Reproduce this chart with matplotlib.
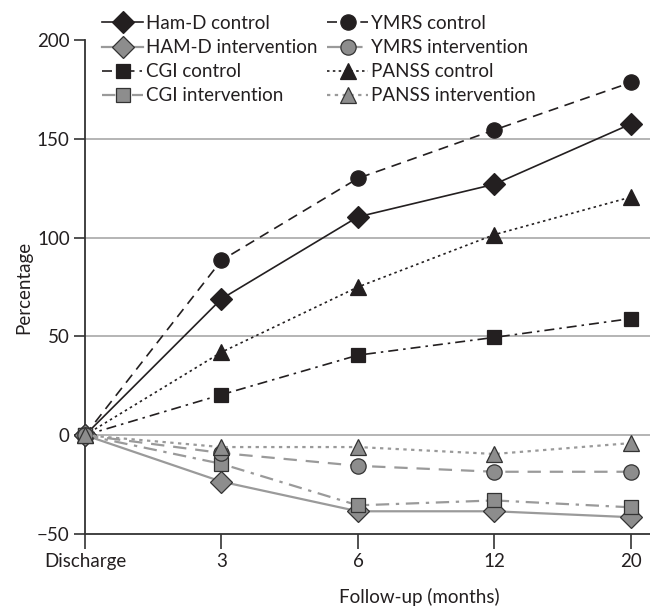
import matplotlib
matplotlib.use("Agg")
import matplotlib.pyplot as plt

categories = ["Discharge", "3", "6", "12", "20"]
hamd_control = [0, 69, 110.5, 127, 157.5]
ymrs_control = [0, 88.5, 130, 154.5, 178.5]
cgi_control = [0, 20.5, 40.5, 49.5, 59]
panss_control = [0, 42, 75, 101.5, 120.5]
hamd_interv = [0, -23.5, -38.5, -38.5, -41.5]
ymrs_interv = [0, -9, -15.5, -18.5, -18.5]
cgi_interv = [0, -14.5, -35.5, -33, -36.5]
panss_interv = [0, -6, -6, -9.5, -4]

plt.rcParams['font.family'] = ['Lato', 'DejaVu Sans']
BLACK = "#231f20"
GREY = "#8d8d8d"
GREYLINE = "#9a9a9a"
TXT = "#231f20"

fig = plt.figure(figsize=(6.5, 6.09), dpi=100)
ax = fig.add_axes([85/650, 1-534/609, 1-85/650, (534-40)/609])

x = list(range(len(categories)))

series = [
    ("Ham-D control", hamd_control, "-", "D", BLACK, BLACK, 11),
    ("HAM-D intervention", hamd_interv, "-", "D", GREYLINE, GREY, 11),
    ("CGI control", cgi_control, (0, (6, 3, 1.5, 3)), "s", BLACK, BLACK, 10),
    ("CGI intervention", cgi_interv, (0, (6, 3, 1.5, 3)), "s", GREYLINE, GREY, 10),
    ("YMRS control", ymrs_control, (0, (6, 4)), "o", BLACK, BLACK, 11),
    ("YMRS intervention", ymrs_interv, (0, (6, 4)), "o", GREYLINE, GREY, 11),
    ("PANSS control", panss_control, (0, (1.5, 2)), "^", BLACK, BLACK, 11),
    ("PANSS intervention", panss_interv, (0, (1.5, 2)), "^", GREYLINE, GREY, 11),
]

for yv in [0, 50, 100, 150]:
    ax.axhline(yv, color="#a8a8a8", lw=1.2, zorder=1)

handles = {}
order_plot = [0, 2, 4, 6, 1, 3, 5, 7]
for i in order_plot:
    name, vals, ls, mk, lc, fc, ms = series[i]
    lw = 1.2 if lc == BLACK else 1.6
    h, = ax.plot(x, vals, linestyle=ls, color=lc, lw=lw, marker=mk,
                 markersize=ms, markerfacecolor=fc,
                 markeredgecolor="#333333" if lc != BLACK else BLACK,
                 markeredgewidth=0.9, zorder=3 if lc == BLACK else 4, clip_on=False)
    handles[i] = h

leg = ax.legend([handles[i] for i in range(8)], [s[0] for s in series], ncol=2,
                loc="upper left", bbox_to_anchor=((102-85)/565, (534-15)/494),
                frameon=False, fontsize=13.5, handlelength=2.2, handletextpad=0.15,
                columnspacing=0.5, labelspacing=0.38, borderaxespad=0, borderpad=0)
for t in leg.get_texts():
    t.set_color(TXT)

ax.set_xlim(0, 4.14)
ax.set_ylim(-50, 200)
ax.set_xticks(x)
ax.set_xticklabels(categories)
ax.set_yticks([-50, 0, 50, 100, 150, 200])
ax.set_yticklabels(["\u221250", "0", "50", "100", "150", "200"])
for s in ["top", "right"]:
    ax.spines[s].set_visible(False)
for s in ["left", "bottom"]:
    ax.spines[s].set_color("#333333")
    ax.spines[s].set_linewidth(1.3)
ax.tick_params(axis="y", direction="out", length=8, width=1.2, color="#333333",
               labelsize=13.5, labelcolor=TXT, pad=3)
ax.tick_params(axis="x", direction="out", length=11, width=1.2, color="#333333",
               labelsize=13.5, labelcolor=TXT, pad=3)

ax.set_ylabel("Percentage", fontsize=13.5, color=TXT)
ax.yaxis.set_label_coords((24-85)/565, 0.5)
ax.set_xlabel("Follow-up (months)", fontsize=13.5, color=TXT)
ax.xaxis.set_label_coords((419-85)/565, -(597-534)/494)
ax.xaxis.label.set_va("center")
ax.yaxis.label.set_va("center")

fig.savefig("out.png", dpi=100)
